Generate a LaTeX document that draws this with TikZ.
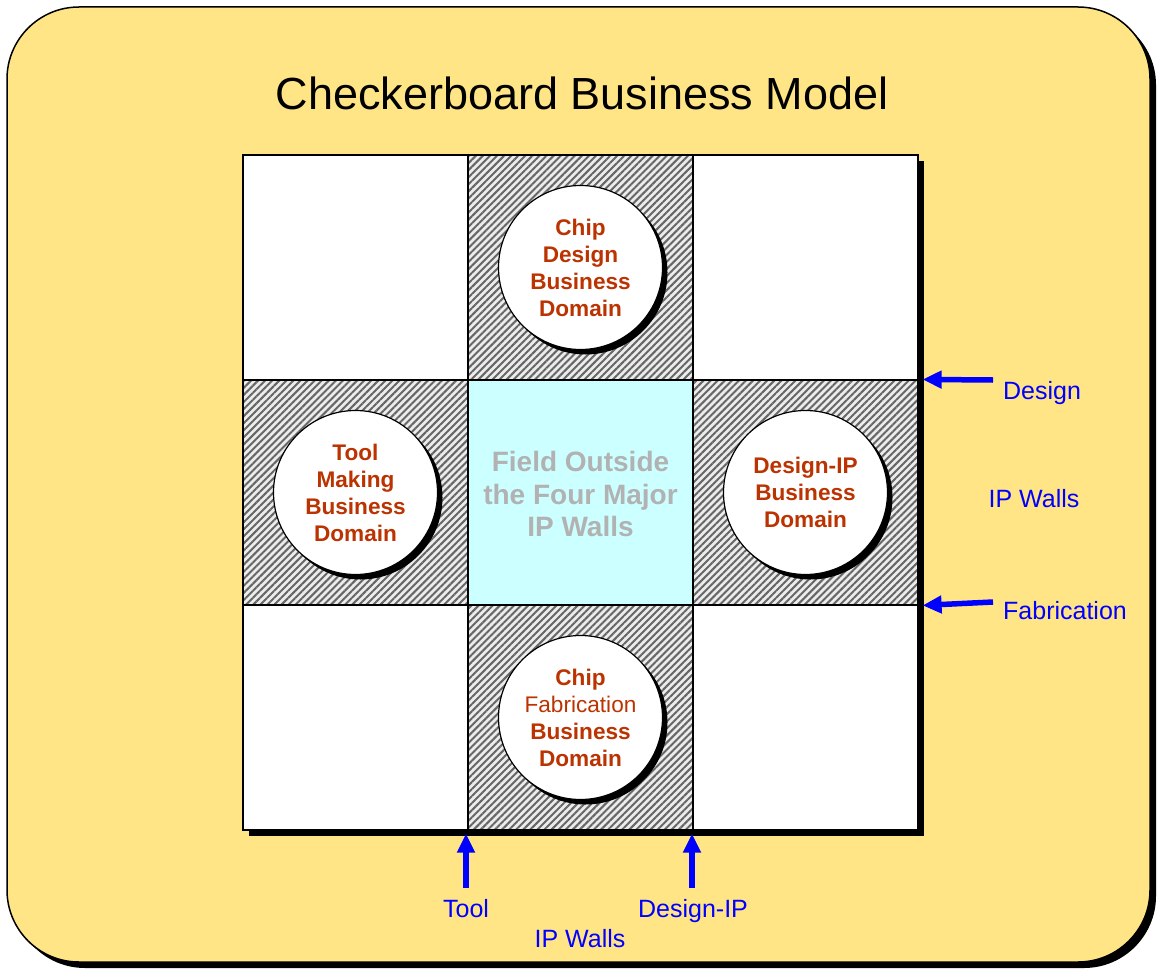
\documentclass[tikz,border=0pt]{standalone}
\usepackage{fontspec}
\setmainfont{Liberation Sans}
\usetikzlibrary{patterns.meta,shadows,arrows.meta}
\definecolor{frameyellow}{RGB}{255,229,133}
\definecolor{domainred}{RGB}{187,51,0}
\definecolor{fieldcyan}{RGB}{204,255,255}
\definecolor{fieldgray}{RGB}{178,178,178}
\definecolor{wallblue}{RGB}{0,0,255}
\tikzset{
  cell/.style={draw, line width=1.2pt, minimum size=225pt, inner sep=0pt},
  wallcell/.style={cell, pattern={Lines[angle=45,distance=5pt,line width=2pt]}, pattern color=black!60, preaction={fill=gray!15}},
  domaincircle/.style={draw, circle, line width=1.2pt, fill=white, minimum size=164pt, inner sep=0pt, align=center,
    text=domainred, font=\bfseries\fontsize{22.6}{27}\selectfont,
    drop shadow={shadow xshift=5pt, shadow yshift=-5pt, fill=black, opacity=1}},
  wallarrow/.style={draw=wallblue, line width=5.5pt, -{Triangle[length=19pt,width=17pt]}},
  walllabel/.style={text=wallblue, anchor=base, font=\fontsize{25}{30}\selectfont}
}
\begin{document}
\begin{tikzpicture}[x=1pt,y=-1pt]
\useasboundingbox (0,0) rectangle (1161,971);
\draw[line width=1.5pt, fill=frameyellow, rounded corners=72pt,
  drop shadow={shadow xshift=6pt, shadow yshift=-6pt, fill=black, opacity=1}] (7,7) rectangle (1150,962);
\node[anchor=base, font=\fontsize{45}{50}\selectfont] (title) at (582,110) {Checkerboard Business Model};

% the board
\path[draw, line width=1.5pt, fill=white,
  drop shadow={shadow xshift=6pt, shadow yshift=-6pt, fill=black, opacity=1}] (243,155) rectangle (918,830);
\node[cell, fill=white] (c11) at (355.5,267.5) {};
\node[wallcell] (c12) at (580.5,267.5) {};
\node[cell, fill=white] (c13) at (805.5,267.5) {};
\node[wallcell] (c21) at (355.5,492.5) {};
\node[cell, fill=fieldcyan] (c22) at (580.5,492.5) {};
\node[wallcell] (c23) at (805.5,492.5) {};
\node[cell, fill=white] (c31) at (355.5,717.5) {};
\node[wallcell] (c32) at (580.5,717.5) {};
\node[cell, fill=white] (c33) at (805.5,717.5) {};
\path[draw, line width=1.5pt] (c11.north west) rectangle (c33.south east);

\node[domaincircle] (design) at (c12) {Chip\\Design\\Business\\Domain};
\node[domaincircle] (tool) at (c21) {Tool\\Making\\Business\\Domain};
\node[domaincircle] (designip) at (c23) {Design-IP\\Business\\Domain};
\node[domaincircle] (fab) at (c32) {Chip\\{\mdseries Fabrication}\\Business\\Domain};
\node[align=center, text=fieldgray, font=\bfseries\fontsize{28}{32.5}\selectfont] (field) at (580.5,494) {Field Outside\\the Four Major\\IP Walls};

% the walls
\coordinate (designtail) at (993,380);
\coordinate (fabtail) at (993,602);
\coordinate (tooltail) at (466,888);
\coordinate (diptail) at (692,888);
\draw[wallarrow, shorten >=4pt] (designtail) -- (c23.north east);
\draw[wallarrow, shorten >=4pt] (fabtail) -- (c23.south east);
\draw[wallarrow, shorten >=3pt] (tooltail) -- (tooltail |- c32.south);
\draw[wallarrow, shorten >=3pt] (diptail) -- (diptail |- c32.south);
\node[walllabel] (designlbl) at (1042,399) {Design};
\node[walllabel] (rightwalls) at (1034,507) {IP Walls};
\node[walllabel] (fablbl) at (1065,619) {Fabrication};
\node[walllabel] (toollbl) at (466,917) {Tool};
\node[walllabel] (diplbl) at (693,917) {Design-IP};
\node[walllabel] (bottomwalls) at (580,947) {IP Walls};
\end{tikzpicture}
\end{document}
